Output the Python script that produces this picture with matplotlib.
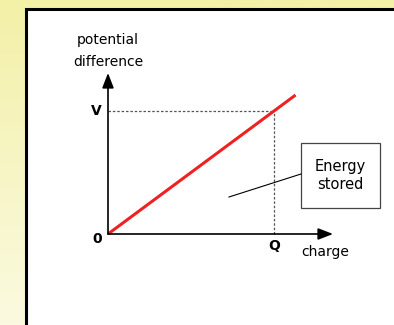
import numpy as np
import matplotlib.pyplot as plt
from matplotlib.patches import Rectangle

# schematic values (Q = 1, V = 1), line runs a bit past the point
charge = [0.0, 1.13]
pot_diff = [0.0, 1.13]
Q = 1.0
V = 1.0
x_tick_labels = ['0', 'Q']
y_tick_labels = ['V']

font = 'DejaVu Sans'

fig = plt.figure(figsize=(3.94, 3.25), dpi=100)

# yellow gradient background
bg = fig.add_axes([0, 0, 1, 1])
grad = np.linspace(0, 1, 256).reshape(-1, 1)
top = np.array([243, 240, 168]) / 255
bot = np.array([251, 250, 224]) / 255
img = top + grad[:, :, None] * (bot - top)
bg.imshow(img, aspect='auto', extent=[0, 1, 0, 1], origin='upper')
bg.add_patch(Rectangle((25.5 / 394, -0.1), 1.2, (325 - 9) / 325 + 0.1,
                       facecolor='white', edgecolor='black', lw=2.2,
                       transform=bg.transAxes))
bg.set_xlim(0, 1)
bg.set_ylim(0, 1)
bg.axis('off')

# main axes: origin at pixel (108, 234), 166 px per unit in x, 123 px per unit in y
ax = fig.add_axes([0, 0, 1, 1])
ax.set_xlim(-108 / 166, (394 - 108) / 166)
ax.set_ylim(-(325 - 234) / 123, 234 / 123)
ax.axis('off')

# axes arrows
ax.annotate('', xy=(225 / 166, 0), xytext=(0, 0),
            arrowprops=dict(arrowstyle='-|>,head_length=0.9,head_width=0.35',
                            color='black', lw=1.2, shrinkA=0, shrinkB=0))
ax.annotate('', xy=(0, 161 / 123), xytext=(0, 0),
            arrowprops=dict(arrowstyle='-|>,head_length=0.9,head_width=0.35',
                            color='black', lw=1.2, shrinkA=0, shrinkB=0))

# dotted guides
ax.plot([0, Q], [V, V], color='#555555', lw=0.9, ls=(0, (2, 1.5)))
ax.plot([Q, Q], [0, V], color='#555555', lw=0.9, ls=(0, (2, 1.5)))

# the line
ax.plot(charge, pot_diff, color='#ee2222', lw=2.2, solid_capstyle='butt')

# tick labels
ax.text(-0.068, -0.04, x_tick_labels[0], ha='center', va='center', fontsize=10, fontweight='bold', family=font)
ax.text(Q, -0.1, x_tick_labels[1], ha='center', va='center', fontsize=10, fontweight='bold', family=font)
ax.text(-0.068, V, y_tick_labels[0], ha='center', va='center', fontsize=10, fontweight='bold', family=font)

# axis titles
ax.text(1.31, -0.145, 'charge', ha='center', va='center', fontsize=10, family=font)
ax.text(0, 194 / 123, 'potential', ha='center', va='center', fontsize=10, family=font)
ax.text(0, 172 / 123, 'difference', ha='center', va='center', fontsize=10, family=font)

# energy stored label with leader line
ax.plot([121 / 166, 193 / 166], [37 / 123, 60 / 123], color='black', lw=0.8)
ax.add_patch(Rectangle((193 / 166, 26 / 123), 79 / 166, 65 / 123,
                       facecolor='white', edgecolor='#444444', lw=0.9))
ax.text(232.5 / 166, 58.5 / 123, 'Energy\nstored', ha='center', va='center',
        fontsize=10.5, family=font, linespacing=1.25)

plt.savefig('out.png', dpi=100)
